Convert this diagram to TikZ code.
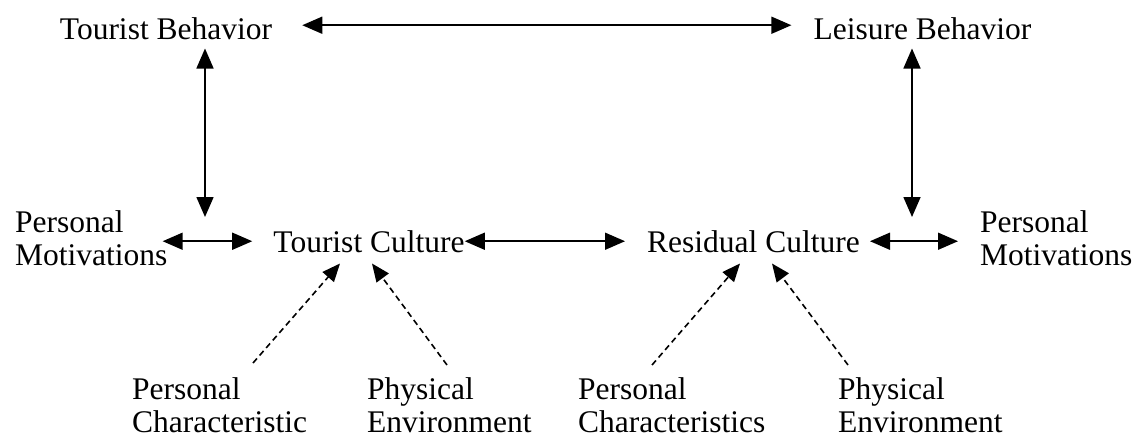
\documentclass[tikz,border=0pt]{standalone}
\usepackage{fontspec}
\setmainfont{Liberation Serif}
\usetikzlibrary{arrows.meta}
\begin{document}
\begin{tikzpicture}[x=1pt,y=-1pt,
  lbl/.style={inner sep=0pt,font=\fontsize{31.5}{33}\selectfont},
  mlbl/.style={lbl,align=left,anchor=north west},
  arr/.style={line width=1.6pt,{Triangle[length=20pt,width=17pt]}-{Triangle[length=20pt,width=17pt]}},
  darr/.style={line width=1.6pt,dash pattern=on 6pt off 4pt,-{Triangle[length=18pt,width=15pt]}}]
\useasboundingbox (0,0) rectangle (1145,439);
\node[lbl,anchor=base] (tb) at (166,39) {Tourist Behavior};
\node[lbl,anchor=base] (lb) at (922.5,39) {Leisure Behavior};
\node[lbl,anchor=base] (tc) at (369,252) {Tourist Culture};
\node[lbl,anchor=base] (rc) at (753.5,252) {Residual Culture};
\node[mlbl] (pml) at (15,210.5) {Personal\\Motivations};
\node[mlbl] (pmr) at (980,210.5) {Personal\\Motivations};
\node[mlbl] (pc1) at (132,377.5) {Personal\\Characteristic};
\node[mlbl] (pe1) at (367,377.5) {Physical\\Environment};
\node[mlbl] (pc2) at (578,377.5) {Personal\\Characteristics};
\node[mlbl] (pe2) at (838,377.5) {Physical\\Environment};
\coordinate (vl) at (205,217);
\coordinate (vr) at (912,217);
% top
\draw[arr] ([xshift=30pt,yshift=3pt]tb.east) -- ([xshift=-22pt,yshift=3pt]lb.west);
% verticals
\draw[arr] ([yshift=-9pt]tb.south -| vl) -- (vl);
\draw[arr] ([yshift=-9pt]lb.south -| vr) -- (vr);
% middle row
\draw[arr] ([xshift=-5pt]pml.east |- tc.west) -- ([xshift=-21pt]tc.west);
\draw[arr] (tc.east) -- ([xshift=-22pt]rc.west);
\draw[arr] ([xshift=10pt]rc.east) -- ([xshift=-22pt]pmr.west |- rc.east);
% dashed
\draw[darr] ([xshift=121pt,yshift=14.5pt]pc1.north west) -- ([xshift=-29pt,yshift=-11pt]tc.south);
\draw[darr] ([xshift=80pt,yshift=12.5pt]pe1.north west) -- ([xshift=3pt,yshift=-11pt]tc.south);
\draw[darr] ([xshift=74pt,yshift=12.5pt]pc2.north west) -- ([xshift=-13.5pt,yshift=-11pt]rc.south);
\draw[darr] ([xshift=10pt,yshift=12.5pt]pe2.north west) -- ([xshift=18.5pt,yshift=-11pt]rc.south);
\end{tikzpicture}
\end{document}
